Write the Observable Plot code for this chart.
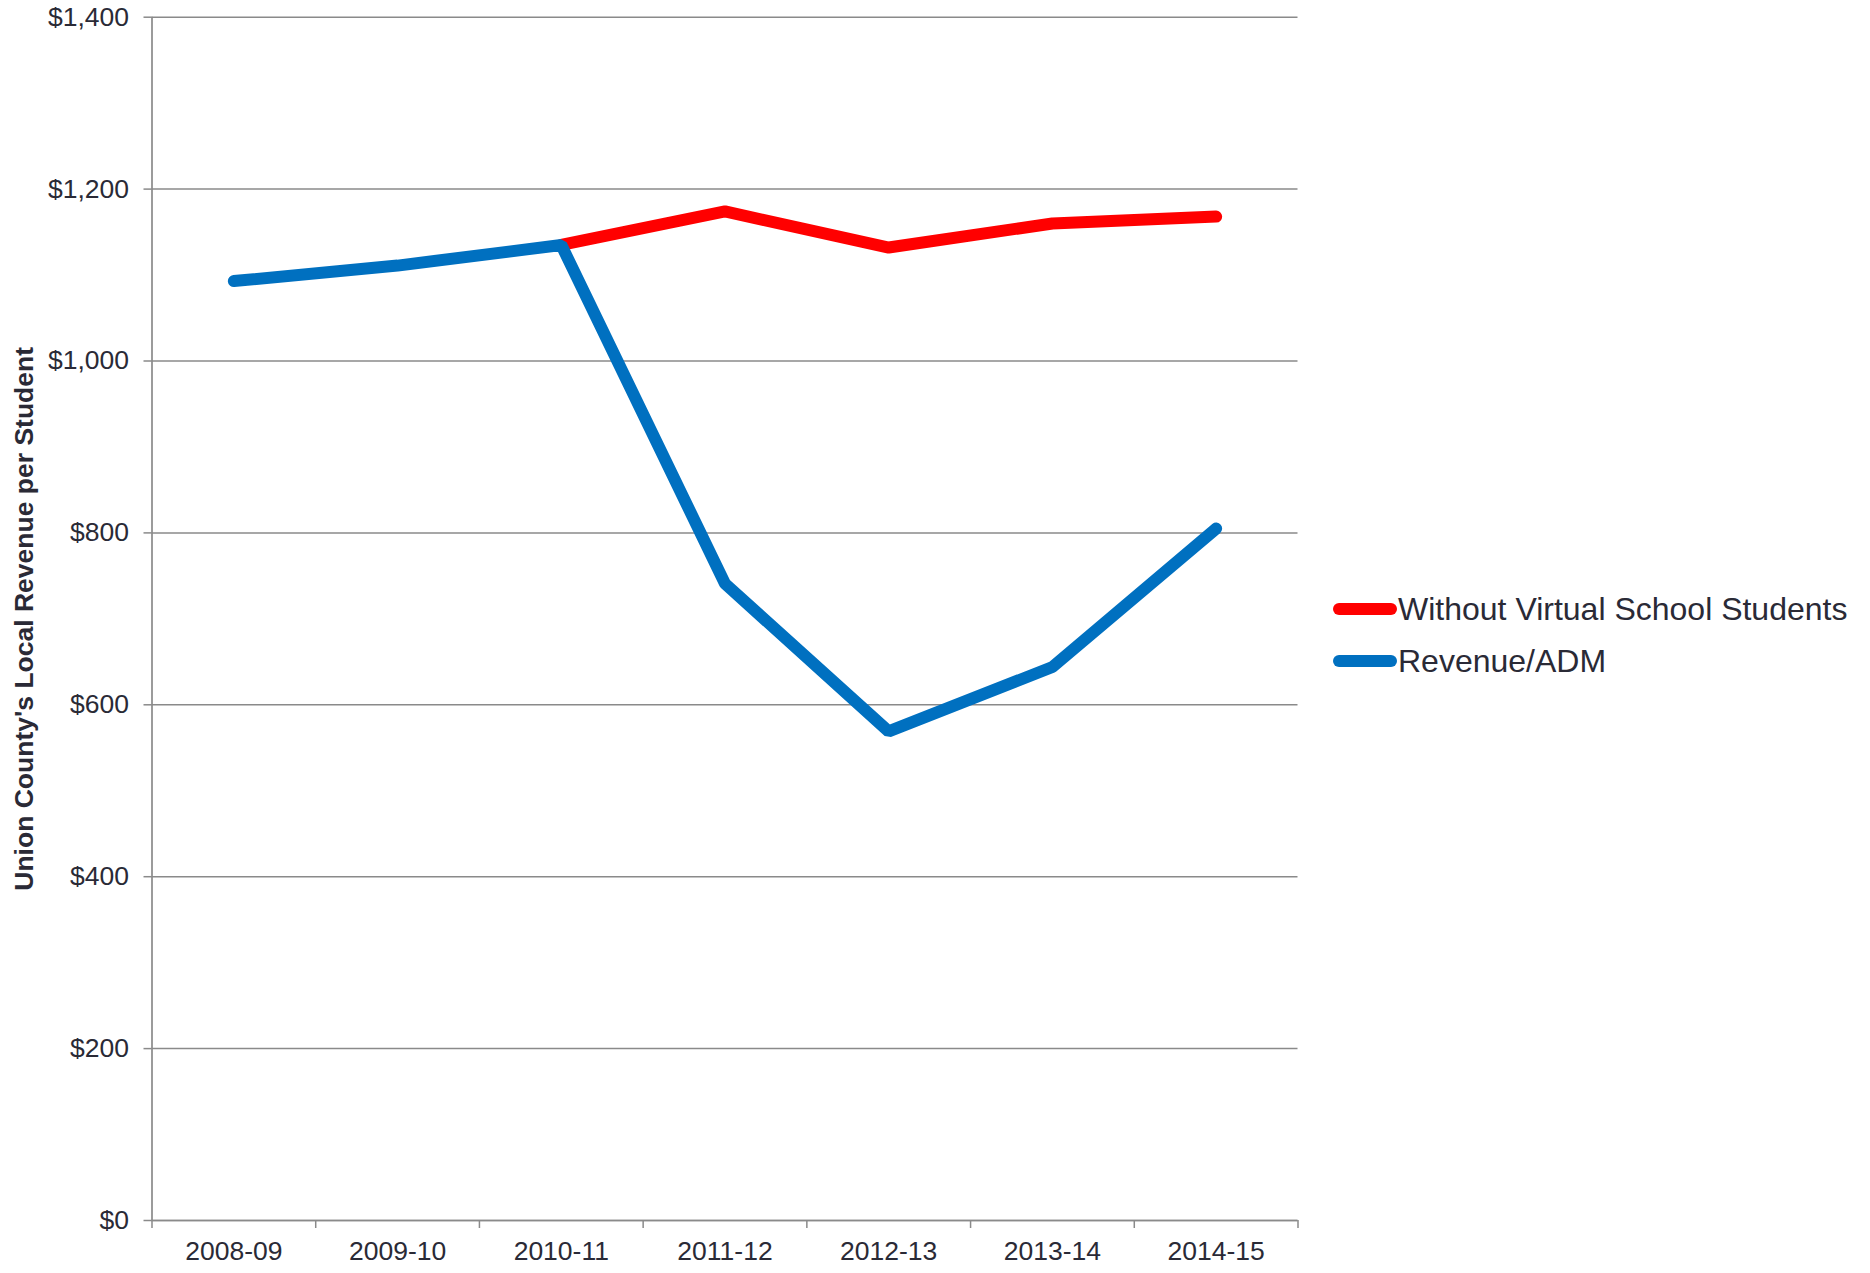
<!DOCTYPE html>
<html><head><meta charset="utf-8">
<script src="https://cdn.jsdelivr.net/npm/d3@7"></script>
<script src="https://cdn.jsdelivr.net/npm/@observablehq/plot@0.6"></script>
<style>
body{margin:0;background:#fff;font-family:"Liberation Sans",Arial,sans-serif;}
#wrap{position:relative;width:1870px;height:1273px;}
.legend{position:absolute;left:1333px;top:583px;color:#2a2a36;font-size:32px;}
.item{display:flex;align-items:center;height:52px;white-space:nowrap;}
.sw{display:inline-block;width:64px;height:12px;border-radius:6px;margin-right:1px;}
</style></head><body><div id="wrap"></div>
<script>
const categories = ["2008-09","2009-10","2010-11","2011-12","2012-13","2013-14","2014-15"];
const revenueADM = [1093,1111,1135,741,569,644,805];
const withoutVirtual = [null,null,1135,1174,1132,1160,1168];
const yTicks = [0,200,400,600,800,1000,1200,1400];
const seriesNames = ["Without Virtual School Students","Revenue/ADM"];
const seriesColors = ["#ff0000","#0070c0"];
const yTitle = "Union County's Local Revenue per Student";

const rows = [];
categories.forEach((c,i)=>{ if(withoutVirtual[i]!=null) rows.push({x:i+0.5, v:withoutVirtual[i], s:seriesNames[0]}); });
categories.forEach((c,i)=> rows.push({x:i+0.5, v:revenueADM[i], s:seriesNames[1]}));

const axisColor = "#8a8a8a";
const textColor = "#2a2a36";
const chart = Plot.plot({
  width:1870, height:1273,
  marginLeft:151.5, marginRight:572.5, marginTop:16.7, marginBottom:53,
  style:{fontFamily:'"Liberation Sans",Arial,sans-serif', fontSize:"26px", color:textColor, background:"white"},
  x:{type:"linear", domain:[0,categories.length]},
  y:{domain:[0,1400]},
  color:{domain:seriesNames, range:seriesColors},
  marks:[
    Plot.gridY(yTicks,{stroke:axisColor, strokeOpacity:1, strokeWidth:1.5}),
    Plot.axisY(yTicks,{tickSize:8, tickPadding:15, stroke:axisColor, strokeWidth:1.5, tickFormat:d=>"$"+d3.format(",")(d), fontSize:26.5, label:null}),
    Plot.axisX(d3.range(categories.length+1),{tickSize:8, tickFormat:()=>"", stroke:axisColor, strokeWidth:1.5, label:null}),
    Plot.axisX(categories.map((c,i)=>i+0.5),{tickSize:0, tickPadding:21, tickFormat:d=>categories[Math.floor(d)], fontSize:26.5, label:null}),
    Plot.ruleX([0],{stroke:axisColor, strokeWidth:1.7}),
    Plot.ruleY([0],{stroke:axisColor, strokeWidth:1.7}),
    Plot.text([yTitle],{text:d=>d, frameAnchor:"left", textAnchor:"middle", lineAnchor:"middle", rotate:-90, dx:-127, fontWeight:"bold", fontSize:26.5, fill:textColor}),
    Plot.line(rows,{x:"x", y:"v", z:"s", stroke:"s", strokeWidth:12, strokeLinecap:"round", strokeLinejoin:"miter"})
  ]
});
const wrap = document.getElementById("wrap");
wrap.appendChild(chart);
const leg = document.createElement("div");
leg.className = "legend";
seriesNames.forEach((n,i)=>{
  const it = document.createElement("div"); it.className="item";
  const sw = document.createElement("span"); sw.className="sw"; sw.style.background=seriesColors[i];
  it.appendChild(sw); it.appendChild(document.createTextNode(n));
  leg.appendChild(it);
});
wrap.appendChild(leg);
</script></body></html>
